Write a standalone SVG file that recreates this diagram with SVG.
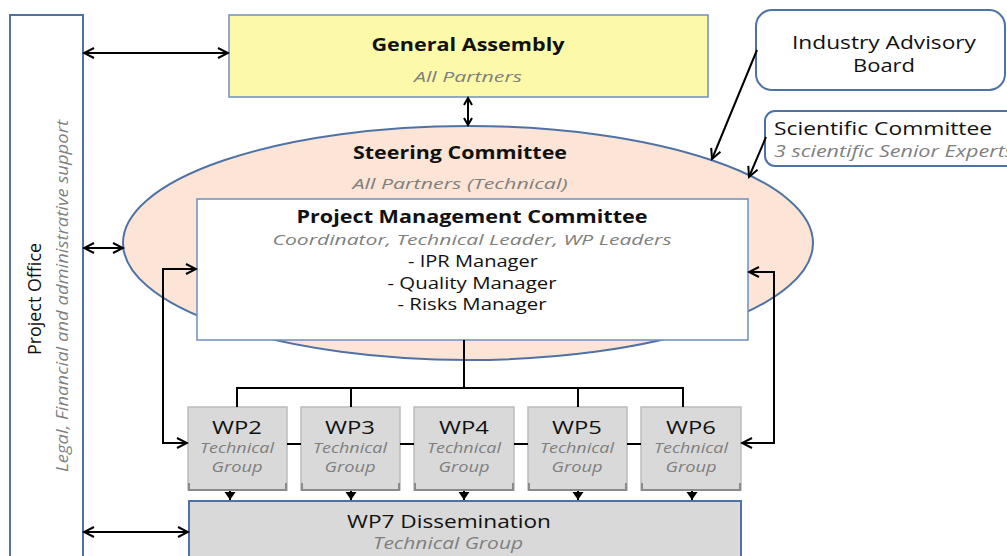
<svg xmlns="http://www.w3.org/2000/svg" width="1007" height="556" viewBox="0 0 1007 556">
<style>
text{font-family:"Open Sans","Liberation Sans",sans-serif;fill:#111}
.b{font-weight:bold;font-size:17px}
.r{font-size:17px}
.i{font-style:italic;fill:#7f7f7f;font-size:15px}
.m{text-anchor:middle}
.ln{stroke:#000;stroke-width:2;fill:none}
.wp{fill:#d9d9d9;stroke:#bcbcbc;stroke-width:1.5}
.wps{fill:none;stroke:#8a8a8a;stroke-width:2}
</style>
<defs>
<marker id="ah" markerUnits="userSpaceOnUse" markerWidth="14" markerHeight="14" viewBox="0 0 14 14" refX="12" refY="7" orient="auto-start-reverse">
<path d="M2,2 L12,7 L2,12" fill="none" stroke="#000" stroke-width="2"/>
</marker>
<marker id="as" markerUnits="userSpaceOnUse" markerWidth="12" markerHeight="12" viewBox="0 0 12 12" refX="10" refY="6" orient="auto-start-reverse">
<path d="M3,2 L10,6 L3,10" fill="none" stroke="#000" stroke-width="2"/>
</marker>
<marker id="sm" markerUnits="userSpaceOnUse" markerWidth="14" markerHeight="14" viewBox="0 0 14 14" refX="7" refY="12" orient="0">
<path d="M1.5,4 L12.5,4 L7,12 Z" fill="#000"/>
</marker>
</defs>

<g id="project-office">
<rect x="10" y="15" width="73" height="560" fill="#fff" stroke="#4f72a6" stroke-width="2"/>
<text class="r m" transform="translate(41,299) rotate(-90)" style="font-size:18px" textLength="112" lengthAdjust="spacingAndGlyphs">Project Office</text>
<text class="i m" transform="translate(68,296) rotate(-90)" style="font-size:16px" textLength="352" lengthAdjust="spacingAndGlyphs">Legal, Financial and administrative support</text>
</g>

<g id="general-assembly">
<rect x="229" y="15" width="479" height="82" fill="#fcfaa8" stroke="#6d8ebf" stroke-width="1.5"/>
<text class="b m" x="468" y="51" textLength="193" lengthAdjust="spacingAndGlyphs">General Assembly</text>
<text class="i m" x="468" y="82" textLength="108" lengthAdjust="spacingAndGlyphs">All Partners</text>
</g>

<g id="steering-committee">
<ellipse cx="468" cy="243" rx="345" ry="117" fill="#fce5d6" stroke="#4f72a6" stroke-width="2"/>
<text class="b m" x="460" y="159" textLength="214" lengthAdjust="spacingAndGlyphs">Steering Committee</text>
<text class="i m" x="460" y="189" textLength="215" lengthAdjust="spacingAndGlyphs">All Partners (Technical)</text>
</g>

<g id="pmc">
<rect x="197" y="199" width="551" height="141" fill="#fff" stroke="#6d8ebf" stroke-width="1.5"/>
<text class="b m" x="472" y="223" textLength="351" lengthAdjust="spacingAndGlyphs">Project Management Committee</text>
<text class="i m" x="472" y="245" textLength="399" lengthAdjust="spacingAndGlyphs">Coordinator, Technical Leader, WP Leaders</text>
<text class="r m" x="473" y="267" textLength="130" lengthAdjust="spacingAndGlyphs">- IPR Manager</text>
<text class="r m" x="472" y="289" textLength="169" lengthAdjust="spacingAndGlyphs">- Quality Manager</text>
<text class="r m" x="472" y="310" textLength="149" lengthAdjust="spacingAndGlyphs">- Risks Manager</text>
</g>

<g id="industry-advisory-board">
<rect x="756" y="10" width="249" height="80" rx="16" fill="#fff" stroke="#4f72a6" stroke-width="2"/>
<text class="r m" x="884" y="49" style="font-size:18px" textLength="184" lengthAdjust="spacingAndGlyphs">Industry Advisory</text>
<text class="r m" x="884" y="72" style="font-size:18px" textLength="62" lengthAdjust="spacingAndGlyphs">Board</text>
</g>

<g id="scientific-committee">
<rect x="765" y="111" width="260" height="55" rx="10" fill="#fff" stroke="#4f72a6" stroke-width="2"/>
<text class="r" x="774" y="135" style="font-size:18px" textLength="218" lengthAdjust="spacingAndGlyphs">Scientific Committee</text>
<text class="i" x="774" y="157" style="font-size:16px" textLength="240" lengthAdjust="spacingAndGlyphs">3 scientific Senior Experts</text>
</g>

<g id="wp2">
<rect class="wp" x="188" y="407" width="99" height="83"/>
<path class="wps" d="M189,483 V490 H286 V483"/>
<text class="r m" x="237" y="434" style="font-size:18px" textLength="50" lengthAdjust="spacingAndGlyphs">WP2</text>
<text class="i m" x="237" y="453" textLength="74" lengthAdjust="spacingAndGlyphs">Technical</text>
<text class="i m" x="237" y="472" textLength="51" lengthAdjust="spacingAndGlyphs">Group</text>
</g>
<g id="wp3">
<rect class="wp" x="301" y="407" width="99" height="83"/>
<path class="wps" d="M302,483 V490 H399 V483"/>
<text class="r m" x="350" y="434" style="font-size:18px" textLength="50" lengthAdjust="spacingAndGlyphs">WP3</text>
<text class="i m" x="350" y="453" textLength="74" lengthAdjust="spacingAndGlyphs">Technical</text>
<text class="i m" x="350" y="472" textLength="51" lengthAdjust="spacingAndGlyphs">Group</text>
</g>
<g id="wp4">
<rect class="wp" x="414" y="407" width="100" height="83"/>
<path class="wps" d="M415,483 V490 H513 V483"/>
<text class="r m" x="464" y="434" style="font-size:18px" textLength="50" lengthAdjust="spacingAndGlyphs">WP4</text>
<text class="i m" x="464" y="453" textLength="74" lengthAdjust="spacingAndGlyphs">Technical</text>
<text class="i m" x="464" y="472" textLength="51" lengthAdjust="spacingAndGlyphs">Group</text>
</g>
<g id="wp5">
<rect class="wp" x="528" y="407" width="99" height="83"/>
<path class="wps" d="M529,483 V490 H626 V483"/>
<text class="r m" x="577" y="434" style="font-size:18px" textLength="50" lengthAdjust="spacingAndGlyphs">WP5</text>
<text class="i m" x="577" y="453" textLength="74" lengthAdjust="spacingAndGlyphs">Technical</text>
<text class="i m" x="577" y="472" textLength="51" lengthAdjust="spacingAndGlyphs">Group</text>
</g>
<g id="wp6">
<rect class="wp" x="641" y="407" width="100" height="83"/>
<path class="wps" d="M642,483 V490 H740 V483"/>
<text class="r m" x="691" y="434" style="font-size:18px" textLength="50" lengthAdjust="spacingAndGlyphs">WP6</text>
<text class="i m" x="691" y="453" textLength="74" lengthAdjust="spacingAndGlyphs">Technical</text>
<text class="i m" x="691" y="472" textLength="51" lengthAdjust="spacingAndGlyphs">Group</text>
</g>

<g id="wp7">
<rect x="189" y="501" width="552" height="70" fill="#d9d9d9" stroke="#4f72a6" stroke-width="2"/>
<text class="r m" x="449" y="528" style="font-size:18px" textLength="204" lengthAdjust="spacingAndGlyphs">WP7 Dissemination</text>
<text class="i m" x="448" y="549" style="font-size:16px" textLength="150" lengthAdjust="spacingAndGlyphs">Technical Group</text>
</g>

<g id="connectors">
<line class="ln" x1="84" y1="53" x2="228" y2="53" marker-start="url(#ah)" marker-end="url(#ah)"/>
<line class="ln" x1="84" y1="248" x2="123" y2="248" marker-start="url(#ah)" marker-end="url(#ah)"/>
<line class="ln" x1="84" y1="532" x2="188" y2="532" marker-start="url(#ah)" marker-end="url(#ah)"/>
<line class="ln" x1="468" y1="98" x2="468" y2="125" marker-start="url(#as)" marker-end="url(#as)"/>
<line class="ln" x1="757" y1="50" x2="712" y2="159" marker-end="url(#ah)"/>
<line class="ln" x1="766" y1="137" x2="749" y2="177" marker-end="url(#ah)"/>
<path class="ln" d="M196,269 H163 V443 H187" marker-start="url(#ah)" marker-end="url(#ah)"/>
<path class="ln" d="M749,272 H774 V443 H742" marker-start="url(#ah)" marker-end="url(#ah)"/>
<path class="ln" d="M464,340 V388 M237,407 V388 H683 V407 M351,388 V407 M578,388 V407"/>
<path class="ln" d="M287,444 H301 M400,444 H414 M514,444 H528 M627,444 H641"/>
<g class="ln">
<line x1="230" y1="491" x2="230" y2="500" marker-end="url(#sm)"/>
<line x1="351" y1="491" x2="351" y2="500" marker-end="url(#sm)"/>
<line x1="464" y1="491" x2="464" y2="500" marker-end="url(#sm)"/>
<line x1="578" y1="491" x2="578" y2="500" marker-end="url(#sm)"/>
<line x1="692" y1="491" x2="692" y2="500" marker-end="url(#sm)"/>
</g>
</g>
</svg>
